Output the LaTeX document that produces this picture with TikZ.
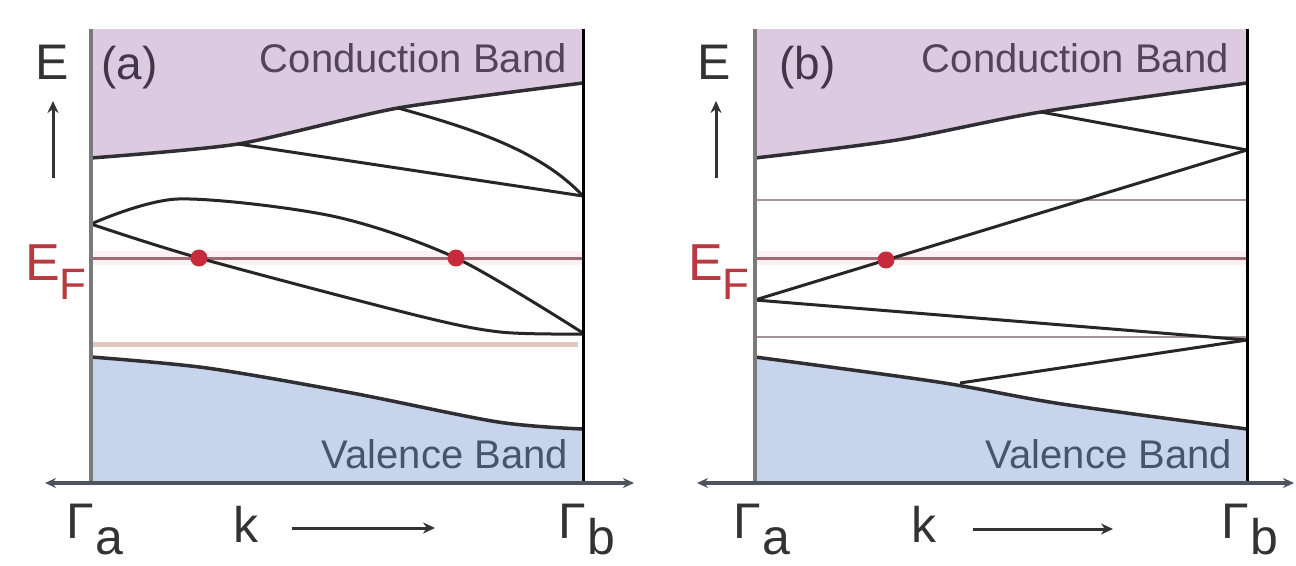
\documentclass[tikz,border=0pt]{standalone}
\usepackage{fontspec}
\setmainfont{Liberation Sans}
\usetikzlibrary{arrows.meta}

\definecolor{cbfill}{HTML}{DCCAE0}
\definecolor{vbfill}{HTML}{C7D4EB}
\definecolor{cbtext}{HTML}{54445A}
\definecolor{vbtext}{HTML}{46546E}
\definecolor{bandblack}{HTML}{262626}
\definecolor{edgegray}{HTML}{2E2E33}
\definecolor{leftgray}{HTML}{7A7A7A}
\definecolor{axline}{HTML}{4E545E}
\definecolor{lblgray}{HTML}{333333}
\definecolor{efline}{HTML}{9E6A75}
\definecolor{efglow}{HTML}{FDF0F3}
\definecolor{paleline}{HTML}{E3C6C0}
\definecolor{levelgray}{HTML}{A3939A}
\definecolor{dotred}{HTML}{C62B3B}
\definecolor{efred}{HTML}{B83A40}

\begin{document}
\begin{tikzpicture}[x=1pt, y=-1pt,
band/.style={line width=3pt, draw=bandblack},
edge/.style={line width=3.5pt, draw=edgegray},
level/.style={line width=2.5pt, draw=levelgray},
fermi/.style={line width=3pt, draw=efline},
glow/.style={line width=14pt, draw=efglow},
pale/.style={line width=5pt, draw=paleline},
leftax/.style={line width=4.5pt, draw=leftgray},
rightax/.style={line width=3pt, draw=black},
kaxis/.style={line width=3.5pt, draw=axline, {Stealth[length=11pt,width=10pt]}-{Stealth[length=11pt,width=10pt]}},
arrow/.style={line width=3pt, draw=lblgray, -{Stealth[length=12pt,width=11pt]}},
dot/.style={circle, fill=dotred, minimum size=17pt, inner sep=0pt},
bandtxt/.style={font=\fontsize{40}{48}\selectfont, inner sep=0pt, anchor=base east},
paneltxt/.style={font=\fontsize{46}{54}\selectfont, text=cbtext!80!black, inner sep=0pt, anchor=base west},
axlbl/.style={font=\fontsize{50}{60}\selectfont, text=lblgray, inner sep=0pt, anchor=base west},
eflbl/.style={font=\fontsize{52}{60}\selectfont, text=efred, inner sep=0pt, anchor=base west}
]
\useasboundingbox (0,0) rectangle (1296,565);
\fill[white] (0,0) rectangle (1296,565);

% panel (a)
\fill[cbfill] (91,29) -- (583,29) -- plot[smooth, tension=0.4] coordinates {(583,83) (398,108) (238,144) (91,158)} -- cycle;
\fill[vbfill] (91,483) -- plot[smooth, tension=0.5] coordinates {(91,357) (207,368) (352,393) (498,422) (583,429)} -- (583,483) -- cycle;

\draw[glow] (91,258) -- (583,258);
\draw[pale] (91,344) -- (578,344);
\draw[fermi] (91,258) -- (583,258);

\draw[edge] plot[smooth, tension=0.4] coordinates {(91,158) (238,144) (398,108) (583,83)};
\draw[band] (238,144) -- (583,196);
\draw[band] (398,108) .. controls (470,128) and (540,150) .. (583,196);
\draw[band] plot[smooth] coordinates {(91,224) (178,199) (332,216) (456,258) (583,333)};
\draw[band] plot[smooth] coordinates {(91,224) (199,258) (415,315) (500,332) (583,334)};
\draw[edge] plot[smooth, tension=0.5] coordinates {(91,357) (207,368) (352,393) (498,422) (583,429)};

\draw[leftax] (91,29) -- (91,483);
\draw[rightax] (583,29) -- (583,483);
\coordinate (kla) at (45,483);
\coordinate (kra) at (634,483);
\draw[kaxis] (kla) -- (kra);

\node[dot] (dota1) at (199,258) {};
\node[dot] (dota2) at (456,258) {};

\node[bandtxt, text=cbtext] (cba) at (567,72) {Conduction Band};
\node[bandtxt, text=vbtext] (vba) at (568,468) {Valence Band};
\node[paneltxt] (pa) at (101,79) {(a)};
\node[axlbl] (ea) at (35,79) {E};
\coordinate (eas) at (53,178);
\coordinate (eat) at (53,101);
\draw[arrow] (eas) -- (eat);
\node[eflbl] (efa) at (25,280) {E\raisebox{-19pt}{\fontsize{44}{50}\selectfont F}};
\node[axlbl] (gaa) at (66,538) {Γ\kern2pt\raisebox{-16pt}{a}};
\node[axlbl] (ka) at (233,542) {k};
\coordinate (kas) at (292,528);
\coordinate (kat) at (435,528);
\draw[arrow] (kas) -- (kat);
\node[axlbl] (gba) at (558,538) {Γ\kern2pt\raisebox{-16pt}{b}};

% panel (b)
\begin{scope}[xshift=664pt]
\fill[cbfill] (91,29) -- (583,29) -- plot[smooth, tension=0.5] coordinates {(583,83) (377,112) (233,140) (91,158)} -- cycle;
\fill[vbfill] (91,483) -- plot[smooth, tension=0.5] coordinates {(91,357) (274,382) (398,404) (583,429)} -- (583,483) -- cycle;

\draw[glow] (91,258) -- (583,258);
\draw[level] (91,200) -- (583,200);
\draw[level] (91,337) -- (583,337);
\draw[fermi] (91,258) -- (583,258);

\draw[edge] plot[smooth, tension=0.5] coordinates {(91,158) (233,140) (377,112) (583,83)};
\draw[band] (377,112) -- (583,150);
\draw[band] (91,300) -- (583,150);
\draw[band] (91,300) -- (583,340);
\draw[band] (296,383) -- (583,340);
\draw[edge] plot[smooth, tension=0.5] coordinates {(91,357) (274,382) (398,404) (583,429)};

\draw[leftax] (91,29) -- (91,483);
\draw[rightax] (583,29) -- (583,483);
\coordinate (klb) at (33,483);
\coordinate (krb) at (630,483);
\draw[kaxis] (klb) -- (krb);

\node[dot] (dotb) at (222,260) {};

\node[bandtxt, text=cbtext] (cbb) at (565,72) {Conduction Band};
\node[bandtxt, text=vbtext] (vbb) at (568,468) {Valence Band};
\node[paneltxt] (pb) at (115,79) {(b)};
\node[axlbl] (eb) at (33,79) {E};
\coordinate (ebs) at (52,178);
\coordinate (ebt) at (52,101);
\draw[arrow] (ebs) -- (ebt);
\node[eflbl] (efb) at (24,280) {E\raisebox{-19pt}{\fontsize{44}{50}\selectfont F}};
\node[axlbl] (gab) at (69,538) {Γ\kern2pt\raisebox{-16pt}{a}};
\node[axlbl] (kb) at (247,542) {k};
\coordinate (kbs) at (309,529);
\coordinate (kbt) at (449,529);
\draw[arrow] (kbs) -- (kbt);
\node[axlbl] (gbb) at (557,538) {Γ\kern2pt\raisebox{-16pt}{b}};
\end{scope}
\end{tikzpicture}
\end{document}
